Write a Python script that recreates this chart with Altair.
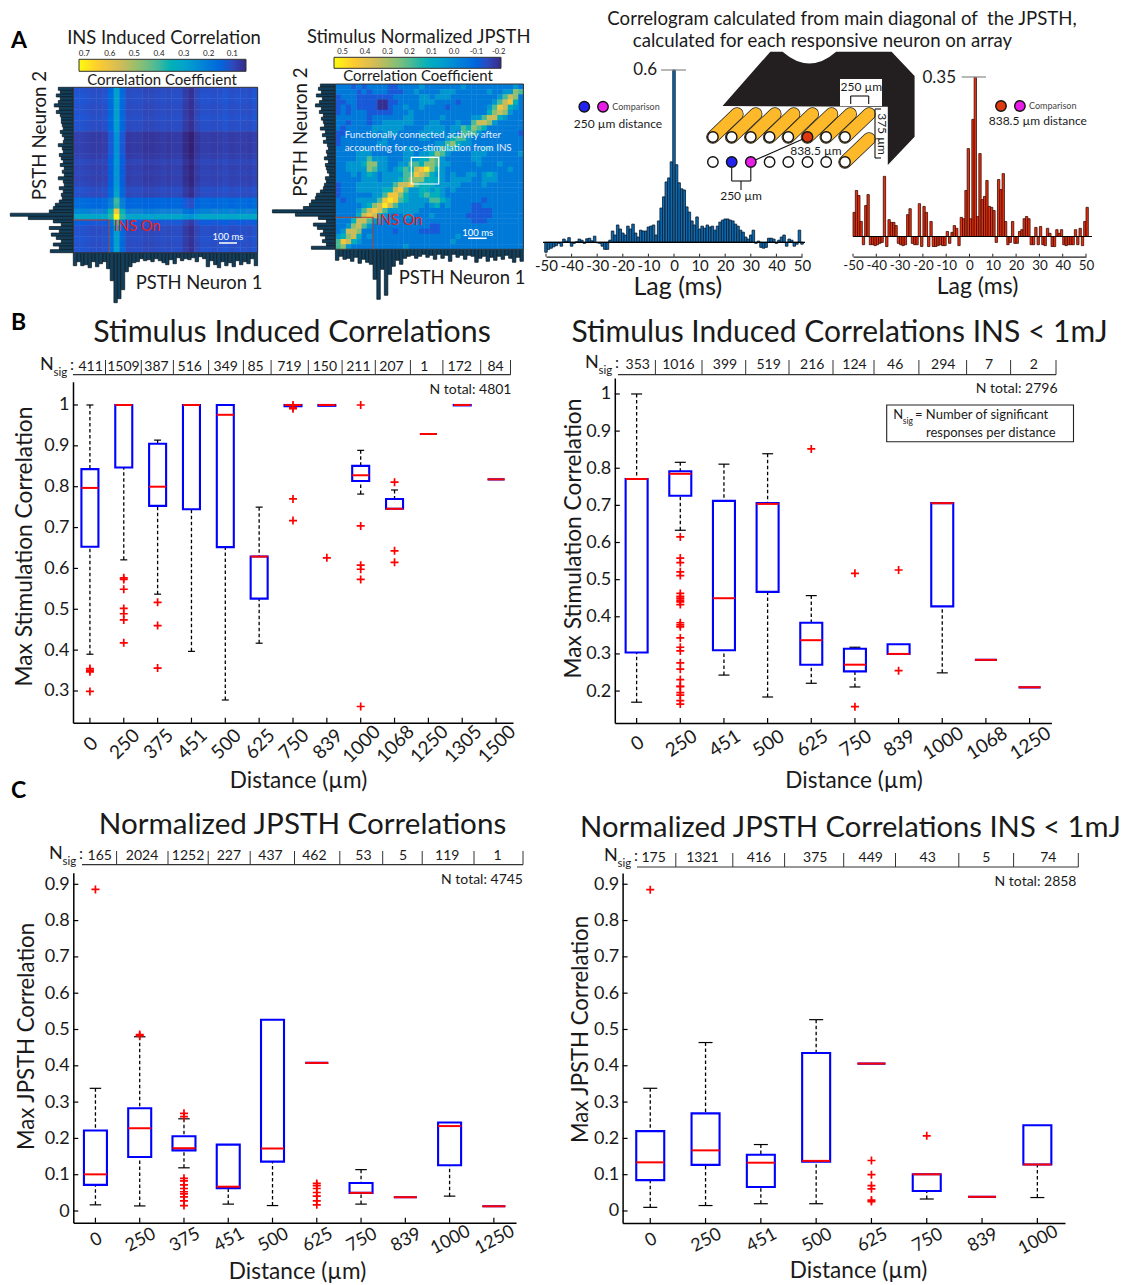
import altair as alt
import pandas as pd

W, H = 1114, 1275
FONT = "Lato"
PARULA = ["#352a87", "#0f5cdd", "#1481d6", "#06a4ca", "#2eb7a4", "#87bf77", "#d1bb59", "#fec832", "#f9fb0e"]

# ---------- data: panel A, PSTH and JPSTH ----------
A1_COL = [.01,.01,.005,0,0,.005,.05,.18,.05,-.005,0,0,-.01,-.01,-.005,0,-.005,0,0,-.03,-.05,-.01,.005,.005,0,.005,.01,0,.005,.005,0,.01]
A1_ROW = [0,.005,.005,0,0,.005,0,0,-.03,-.03,-.03,-.03,-.025,-.012,-.022,-.016,-.022,-.016,0,-.005,.05,.05,.11,.2,.02,0,0,.005,0,.005]
A1_BASE = .105
A1_HOT = [(7,19,.3),(7,20,.4),(7,21,.38),(7,22,.62),(7,23,.71),(7,24,.38),(6,22,.36),(8,22,.36),(6,23,.38),(8,23,.38)]
A1_LEFT = [15,13,17,13,15,19,14,17,13,12,12,11,10,13,11,9,10,15,11,10,14,12,10,13,9,11,9,15,10,9,14,10,12,11,14,18,20,24,63,45,20,12,24,14,22,17,12,20,14,23]
A1_BOTTOM = [13,9,13,12,15,9,14,11,9,16,28,50,46,37,19,14,10,9,6,8,7,9,6,8,10,12,7,11,5,8,6,7,5,9,4,6,14,8,12,15,9,13,10,14,8,12,9,11,6,13]
A2_LEFT = [15,17,14,19,13,16,20,14,16,12,14,12,11,15,10,13,9,12,8,7,9,8,11,7,10,9,8,6,10,9,11,12,15,19,20,24,26,32,63,40,17,9,22,18,12,15,10,13,9,24]
A2_BOTTOM = [11,7,10,9,12,8,14,10,13,15,30,50,20,46,25,17,11,15,9,7,6,9,7,5,8,6,10,5,9,6,12,5,8,6,10,6,7,13,9,7,12,8,11,7,10,6,9,13,8,12]
A2_GRID = """
222121222211222232222222322222222232
222212122211122322223332222223223365
122211111112222233233322222222235762
112211110011222233322221222222357842
121211110012232232222122222223587432
121222111112223222222222222224676322
222222122222233222223222223357743222
221222122333333222332223225776322222
212222233333322223333233546542222222
112222232333222233333232555322222221
122222222322222233222345532222222222
122222223322222222233564332222222222
222223222222233223335443222233222222
222233322222233233465322223332222223
222233533322233344653222223322222222
223334663322335546653322222322232222
223333653323454789643222222222222322
222323432333355876433232233234322222
222223332333456664443233332233322222
122233333335778544433333222232222222
122233333447853344343232222222222222
122222233588643345443222222222222222
212233335898543333554322222212222222
222223467975333332342322221122222222
222235787533333322222222221111222222
222247874322233222322222211111222222
222477533222222222222222221112222222
223675322222222222112222222222222222
237762222221222211112222222222222222
346742322222222222222223222222222222
587432222222222222222232222222222222
563222222222232222222222222222222222
""".split()

# ---------- data: panel A, correlograms ----------
BLUE_VALUES = [-.035,-.025,-.021,-.016,-.012,-.004,-.014,.011,.004,.016,
 -.014,-.004,.002,.011,.007,-.004,.012,.014,.005,.021,
 -.002,-.004,-.014,-.025,-.025,.007,.039,.025,.06,.046,
 .032,.025,.056,.046,.063,.032,.018,.042,.039,.039,
 .053,.056,.06,.025,.074,.119,.158,.21,.224,.28,
 .6,
 .27,.207,.186,.182,.123,.105,.074,.06,.088,.046,
 .056,.049,.06,.053,.056,.042,.056,.07,.077,.081,
 .081,.077,.074,.063,.056,.042,.035,.018,.011,.025,
 .042,-.004,.004,-.018,-.021,-.018,.014,.014,.011,-.004,
 .007,.018,.025,-.014,.011,.007,-.014,-.007,.042,-.007]
RED_VALUES = [.053,.101,.09,.033,-.018,.068,.092,-.018,-.018,-.02,
 -.018,-.015,-.013,.132,-.022,.037,.031,.031,.024,-.015,
 -.018,-.02,-.018,.048,.061,-.015,-.018,-.018,.072,-.022,
 .066,.053,-.022,.033,-.022,-.022,-.02,-.018,-.02,-.02,
 .011,-.015,.009,.024,.018,-.02,.042,.039,.101,.193,
 .039,
 .257,.349,.044,.182,.081,.088,.123,.066,.064,.057,
 -.013,.125,.103,.138,.033,-.018,-.013,.033,-.015,-.015,
 .011,.015,.039,.044,.039,-.018,-.018,.02,-.018,.022,
 -.018,-.02,.018,.007,-.022,-.022,.015,.007,.015,-.018,
 -.02,-.018,-.018,-.018,.015,-.018,.018,-.02,.033,.064]
LAG_TICKS = [-50,-40,-30,-20,-10,0,10,20,30,40,50]

# ---------- data: panels B and C ----------
B1_CATS = ["0","250","375","451","500","625","750","839","1000","1068","1250","1305","1500"]
B1_Q1  = [.653,.847,.753,.745,.652,.526,.997,.998,.814,.746,.929,.999,.818]
B1_MED = [.797,1.0,.8,1.0,.976,.629,1.0,1.0,.828,.746,.929,1.0,.818]
B1_Q3  = [.843,1.0,.905,1.0,1.0,.629,1.0,1.0,.851,.77,.929,1.0,.818]
B1_LO  = [.39,.621,.537,.397,.278,.417,None,None,.782,None,None,None,None]
B1_HI  = [1.0,None,.914,None,None,.75,None,None,.889,.792,None,None,None]
B1_OUT = [[.355,.351,.347,.299],[.577,.573,.549,.502,.489,.474,.418],[.517,.46,.356],[],[],[],[1.0,.994,.991,.77,.717],[.626],[1.0,.704,.608,.598,.573,.262],[.811,.643,.615],[],[],[]]
B1_NSIG = ["411","1509","387","516","349","85","719","150","211","207","1","172","84"]
B1_NSIG_X = [90.6,123.4,156.5,189.7,225.8,255.6,289.4,324.9,358.4,391.5,424.3,459.8,495.6]
B1_SEP_X = [105.5,141.3,173.4,208.6,243.4,271.1,308.3,342.1,375.3,410.4,442.9,480.7,510.5]

B2_CATS = ["0","250","451","500","625","750","839","1000","1068","1250"]
B2_Q1  = [.304,.726,.31,.467,.271,.253,.3,.428,.284,.21]
B2_MED = [.771,.785,.45,.704,.337,.271,.3,.706,.284,.21]
B2_Q3  = [.771,.792,.712,.706,.384,.314,.326,.706,.284,.21]
B2_LO  = [.17,.633,.243,.184,.221,.211,None,.249,None,None]
B2_HI  = [1.0,.816,.811,.839,.457,.318,None,None,None,None]
B2_OUT = [[],[.615,.558,.546,.521,.511,.463,.455,.45,.445,.44,.433,.384,.378,.373,.343,.318,.308,.276,.259,.231,.213,.212,.196,.189,.174,.165],[],[],[.852],[.517,.158],[.526,.255],[],[],[]]
B2_NSIG = ["353","1016","399","519","216","124","46","294","7","2"]
B2_NSIG_X = [637.7,678.4,725,768.6,812.3,854.5,895.2,943.3,989.1,1033.9]
B2_SEP_X = [655.4,702,745.7,789,833,874,918.9,966.6,1010.6,1056]

C1_CATS = ["0","250","375","451","500","625","750","839","1000","1250"]
C1_Q1  = [.072,.149,.167,.063,.136,.408,.05,.038,.126,.013]
C1_MED = [.101,.228,.173,.067,.172,.408,.05,.038,.234,.013]
C1_Q3  = [.222,.283,.206,.183,.527,.408,.077,.038,.244,.013]
C1_LO  = [.017,.014,.119,.019,.015,None,.019,None,.041,None]
C1_HI  = [.338,.48,.254,None,None,None,.114,None,None,None]
C1_OUT = [[.886],[.486,.483],[.269,.26,.09,.083,.072,.062,.053,.047,.039,.028,.015],[],[],[.076,.07,.062,.051,.041,.028,.017],[],[],[],[]]
C1_NSIG = ["165","2024","1252","227","437","462","53","5","119","1"]
C1_NSIG_X = [99.7,142,188,228.9,270.5,314.4,363.4,403,447.3,497.6]
C1_SEP_X = [116.6,168,208.2,250.2,294.5,339.8,382.7,422.2,474,523]

C2_CATS = ["0","250","451","500","625","750","839","1000"]
C2_Q1  = [.085,.127,.066,.136,.406,.055,.039,.128]
C2_MED = [.134,.167,.133,.138,.406,.101,.039,.128]
C2_Q3  = [.22,.269,.155,.435,.406,.101,.039,.236]
C2_LO  = [.01,.015,.02,.02,None,.033,None,.037]
C2_HI  = [.338,.464,.183,.527,None,None,None,None]
C2_OUT = [[.885],[],[],[],[.139,.1,.07,.061,.03,.026],[.207],[],[]]
C2_NSIG = ["175","1321","416","375","449","43","5","74"]
C2_NSIG_X = [653.6,702.4,759,815.3,870.8,927.7,986.2,1048.3]
C2_SEP_X = [675.8,732.8,784.6,843.7,895.5,958.8,1013.6,1078.3]

# ---------- helpers ----------
layers = []
texts = []
PX = alt.Scale(domain=[8, 8 + W], range=[0, W], zero=False, nice=False)
PY = alt.Scale(domain=[8, 8 + H], range=[0, H], zero=False, nice=False)


def T(s, x, y, size=14, color="#1a1a1a", align="center", angle=0):
    texts.append(dict(t=s, x=x, y=y, s=size, c=color, al=align, a=angle))


def seg(lines, color="black", width=1.0, dash=None):
    df = pd.DataFrame(lines, columns=["x", "y", "x1", "y1"])
    kw = dict(color=color, strokeWidth=width)
    if dash:
        kw["strokeDash"] = dash
    layers.append(alt.Chart(df).mark_rule(**kw).encode(
        x=alt.X("x:Q", scale=PX, axis=None), y=alt.Y("y:Q", scale=PY, axis=None),
        x2="x1:Q", y2="y1:Q"))


def rect(x0, y0, x1, y1, fill="white", stroke=None, sw=1.0):
    df = pd.DataFrame([dict(x=x0, y=y0, x1=x1, y1=y1)])
    kw = dict(fill=fill, opacity=1)
    if stroke:
        kw.update(stroke=stroke, strokeWidth=sw)
    layers.append(alt.Chart(df).mark_rect(**kw).encode(
        x=alt.X("x:Q", scale=PX, axis=None), y=alt.Y("y:Q", scale=PY, axis=None),
        x2="x1:Q", y2="y1:Q"))


def dots(xs, ys, colors, size=110):
    df = pd.DataFrame(dict(x=xs, y=ys, c=colors))
    layers.append(alt.Chart(df).mark_point(filled=True, shape="circle", size=size, stroke="#111", strokeWidth=1.4, opacity=1).encode(
        x=alt.X("x:Q", scale=PX, axis=None), y=alt.Y("y:Q", scale=PY, axis=None),
        fill=alt.Fill("c:N", scale=None)))


def boxpanel(cats, q1, med, q3, lo, hi, out, x0, x1, ytop, ybot, dom, yvals, boxw, capw,
             nsig, nsx, sepx, ln, sep_top, ny, nx, ylabel, ylx, yly, ysize, xlx, xly, ang, lpad,
             title, tx, ty, total, totx, toty, lsize=18, tsize=18, tfont=30):
    xs = alt.Scale(domain=cats, range=[x0 - 8, x1 - 8], paddingInner=0, paddingOuter=0)
    ys = alt.Scale(domain=dom, range=[ybot - 8, ytop - 8], zero=False, nice=False)
    df = pd.DataFrame(dict(d=cats, q1=q1, med=med, q3=q3))
    X = alt.X("d:N", scale=xs, axis=None)
    Y = lambda f: alt.Y(f, type="quantitative", scale=ys, axis=None)
    wl = pd.DataFrame([dict(d=c, a=l, b=q) for c, l, q in zip(cats, lo, q1) if l is not None])
    wh = pd.DataFrame([dict(d=c, a=h, b=q) for c, h, q in zip(cats, hi, q3) if h is not None])
    for w in (wl, wh):
        layers.append(alt.Chart(w).mark_rule(color="black", strokeWidth=1.3, strokeDash=[3.5, 2.5]).encode(x=X, y=Y("a"), y2="b:Q"))
        layers.append(alt.Chart(w).mark_tick(color="black", size=capw, thickness=1.2, opacity=1).encode(x=X, y=Y("a")))
    layers.append(alt.Chart(df).mark_bar(size=boxw, fill="white", stroke="#0000ff", strokeWidth=2.1).encode(x=X, y=Y("q1"), y2="q3:Q"))
    layers.append(alt.Chart(df).mark_tick(color="#ff0000", size=boxw, thickness=2, opacity=1).encode(x=X, y=Y("med")))
    od = pd.DataFrame([dict(d=c, v=v) for c, vs in zip(cats, out) for v in vs])
    layers.append(alt.Chart(od).mark_point(shape="M-1,0L1,0M0,-1L0,1", size=64, filled=False, stroke="#ff0000", strokeWidth=1.7, opacity=1).encode(x=X, y=Y("v")))
    # axes with inward ticks
    xax = alt.Axis(orient="bottom", offset=(ybot - 8) - H, ticks=False, domainColor="black", domainWidth=1.5,
                   labelAngle=ang, labelAlign="center", labelBaseline="middle", labelPadding=lpad, labelOffset=1,
                   labelFont=FONT, labelFontSize=lsize, labelColor="#1a1a1a", labelOverlap=False, grid=False,
                   title="Distance (µm)", titleFont=FONT, titleFontSize=22.6, titleFontWeight="normal", titleColor="#1a1a1a",
                   titleX=xlx - 8, titleY=xly - ybot, titleAlign="center", titleBaseline="middle", titleAngle=0)
    layers.append(alt.Chart(df).mark_rule(color="black", strokeWidth=1.2).encode(
        x=alt.X("d:N", scale=xs, axis=xax), y=alt.value(ybot - 8), y2=alt.value(ybot - 13)))
    yd = pd.DataFrame(dict(v=yvals))
    yax = alt.Axis(orient="left", offset=-(x0 - 8), ticks=False, domainColor="black", domainWidth=1.5, values=yvals,
                   labelExpr="'' + datum.value", labelPadding=4, labelFont=FONT, labelFontSize=tsize, labelColor="#1a1a1a", grid=False,
                   title=ylabel, titleFont=FONT, titleFontSize=ysize, titleFontWeight="normal", titleColor="#1a1a1a",
                   titleX=ylx - x0, titleY=yly - 8, titleAlign="center", titleBaseline="middle", titleAngle=270)
    layers.append(alt.Chart(yd).mark_rule(color="black", strokeWidth=1.2).encode(
        y=alt.Y("v:Q", scale=ys, axis=yax), x=alt.value(x0 - 8), x2=alt.value(x0 - 3)))
    # N_sig strip
    seg([(nx + 33, ln, sepx[-1], ln)], "#333", 1.2)
    seg([(s, ln, s, sep_top) for s in sepx], "#333", 1.0)
    for s, x in zip(nsig, nsx):
        T(s, x, ny, 14)
    T("N", nx, ny - 2, 18, align="left")
    T("sig", nx + 13.5, ny + 6, 11.5, align="left")
    T(":", nx + 30, ny - 2, 16, align="left")
    T(total, totx, toty, 14, align="right")
    T(title, tx, ty, tfont)


# ---------- panel A: heatmaps ----------
def heat(df, x0, x1, y0, y1, ncol, nrow, dom, vals, lx, ly, lw, th):
    # cells reach slightly past their neighbour so no hairline seams show between them
    df = df.assign(c1=df.c + 1.08, r1=df.r + 1.08)
    xs = alt.Scale(domain=[0, ncol], range=[x0 - 8, x1 - 8], zero=False, nice=False)
    ys = alt.Scale(domain=[0, nrow], range=[y0 - 8, y1 - 8], zero=False, nice=False)
    cs = alt.Scale(domain=dom, range=PARULA[::-1], nice=False, zero=False)
    leg = alt.Legend(orient="none", legendX=lx - 8, legendY=ly - 8, direction="horizontal", gradientLength=lw,
                     gradientThickness=th, title=None, values=vals, labelExpr="''",
                     labelOverlap=False, gradientStrokeColor="#333", gradientStrokeWidth=1)
    layers.append(alt.Chart(df).mark_rect().encode(
        x=alt.X("c:Q", scale=xs, axis=None), x2="c1:Q", y=alt.Y("r:Q", scale=ys, axis=None), y2="r1:Q",
        color=alt.Color("v:Q", scale=cs, legend=leg)))


def hists(left, bottom, x0, x1, y0, y1):
    fill = "#123f5c"
    yb = alt.Scale(domain=list(range(len(left))), range=[y0 - 8, y1 - 8], paddingInner=0.08, paddingOuter=0)
    xv = alt.Scale(domain=[0, 63], range=[x0 - 8, x0 - 8 - 63], zero=False, nice=False)
    d1 = pd.DataFrame(dict(i=range(len(left)), v=left))
    layers.append(alt.Chart(d1).mark_bar(fill=fill, stroke="#06121a", strokeWidth=.7).encode(
        y=alt.Y("i:O", scale=yb, axis=None), x=alt.X("v:Q", scale=xv, axis=None)))
    xb = alt.Scale(domain=list(range(len(bottom))), range=[x0 - 8, x1 - 8], paddingInner=0.08, paddingOuter=0)
    yv = alt.Scale(domain=[0, 50], range=[y1 - 8, y1 - 8 + 50], zero=False, nice=False)
    d2 = pd.DataFrame(dict(i=range(len(bottom)), v=bottom))
    layers.append(alt.Chart(d2).mark_bar(fill=fill, stroke="#06121a", strokeWidth=.7).encode(
        x=alt.X("i:O", scale=xb, axis=None), y=alt.Y("v:Q", scale=yv, axis=None)))


rows1 = []
hot = {(c, r): v for c, r, v in A1_HOT}
for r, rv in enumerate(A1_ROW):
    for c, cv in enumerate(A1_COL):
        rows1.append(dict(c=c, r=r, v=hot.get((c, r), A1_BASE + rv + cv)))
hists(A1_LEFT, A1_BOTTOM, 73.3, 257.6, 87.3, 252.7)
heat(pd.DataFrame(rows1), 73.3, 257.6, 87.3, 252.7, len(A1_COL), len(A1_ROW), [.722, .045],
     [.7, .6, .5, .4, .3, .2, .1], 79, 59.3, 167, 12)
for s, x in zip(["0.7", "0.6", "0.5", "0.4", "0.3", "0.2", "0.1"], [84.4, 109.8, 134.3, 159, 183.9, 208.7, 232.4]):
    T(s, x, 54, 8)
rect(73.3, 87.3, 257.6, 252.7, fill="transparent", stroke="#333", sw=1)
seg([(73.3, 220, 109.3, 220), (109.3, 220, 109.3, 252.7)], "#b5402f", 1)
T("INS On", 114, 227, 14.5, "#e8221b", "left")
seg([(219, 243, 237, 243)], "white", 1.5)
T("100 ms", 228, 236.5, 9.5, "white")
T("INS Induced Correlation", 164, 38, 18.4)
T("Correlation Coefficient", 162, 80, 15)
T("PSTH Neuron 2", 39.6, 135.5, 18.8, angle=270)
T("PSTH Neuron 1", 199, 282.7, 18.4)

rows2 = []
for r, line in enumerate(A2_GRID):
    for c, ch in enumerate(line.ljust(36, "2")[:36]):
        rows2.append(dict(c=c, r=r, v=-.2 + .0778 * int(ch)))
hists(A2_LEFT, A2_BOTTOM, 335.4, 523.4, 84, 249.3)
heat(pd.DataFrame(rows2), 335.4, 523.4, 84, 249.3, 36, len(A2_GRID), [.539, -.211],
     [.5, .4, .3, .2, .1, 0, -.1, -.2], 334, 57.3, 167, 11)
for s, x in zip(["0.5", "0.4", "0.3", "0.2", "0.1", "0.0", "-0.1", "-0.2"], [342.6, 365, 387.5, 409.5, 431.6, 454, 476.4, 498.6]):
    T(s, x, 52, 7.5)
rect(335.4, 84, 523.4, 249.3, fill="transparent", stroke="#333", sw=1)
seg([(335.4, 217.3, 373.3, 217.3), (373.3, 217.3, 373.3, 249.3)], "#b5402f", 1)
rect(411.3, 157.3, 438.7, 184, fill="transparent", stroke="white", sw=1.2)
T("INS On", 376, 221, 14.5, "#e8221b", "left")
seg([(468, 238.3, 486.7, 238.3)], "white", 1.5)
T("100 ms", 477.7, 232.5, 9.5, "white")
T("Functionally connected activity after", 344.7, 135, 9.8, "#e8ecff", "left")
T("accounting for co-stimulation from INS", 344.7, 147.7, 9.8, "#e8ecff", "left")
T("Stimulus Normalized JPSTH", 418.7, 36.5, 18.4)
T("Correlation Coefficient", 418, 76, 15)
T("PSTH Neuron 2", 301, 132, 18.8, angle=270)
T("PSTH Neuron 1", 462, 278, 18.4)


# ---------- panel A: correlograms ----------
def corr(vals, lags0, x0, x1, ytop, ybot, ymax, ymin, fill, stroke, titleX, titleSize, lab):
    lags = [lags0 + i for i in range(len(vals))]
    df = pd.DataFrame(dict(a=lags, b=[l + 1 for l in lags], v=vals, z=[0.0] * len(vals)))
    xs = alt.Scale(domain=[-50, 50], range=[x0 - 8, x1 - 8], zero=False, nice=False)
    ys = alt.Scale(domain=[ymin, ymax], range=[ybot - 8, ytop - 8], zero=False, nice=False)
    layers.append(alt.Chart(df).mark_rect(fill=fill, stroke=stroke, strokeWidth=.8, opacity=1).encode(
        x=alt.X("a:Q", scale=xs, axis=None), x2="b:Q",
        y=alt.Y("v:Q", scale=ys, axis=None), y2="z:Q"))
    ax = alt.Axis(orient="bottom", offset=(ybot - 8) - H, ticks=False, domainColor="#222", domainWidth=1.3,
                  values=LAG_TICKS, labelExpr="'' + datum.value", labelFont=FONT, labelFontSize=lab, labelColor="#1a1a1a",
                  labelPadding=2, labelOverlap=False, labelFlush=False, grid=False,
                  title="Lag (ms)", titleFont=FONT, titleFontSize=titleSize, titleFontWeight="normal", titleColor="#1a1a1a",
                  titleX=titleX - 8, titleY=286.5 - ybot, titleAlign="center", titleBaseline="middle", titleAngle=0)
    tk = pd.DataFrame(dict(l=LAG_TICKS))
    layers.append(alt.Chart(tk).mark_rule(color="#222", strokeWidth=1).encode(
        x=alt.X("l:Q", scale=xs, axis=ax), y=alt.value(ybot - 8), y2=alt.value(ybot - 11)))


corr(BLUE_VALUES, -50.5, 546, 802, 70, 256.7, .6, -.0505, "#0b6bb5", "#0b1a28", 677.3, 25, 15)
seg([(543, 242.3, 805, 242.3)], "black", 1.2)
seg([(661, 70, 686, 70)], "#888", 1.2)
T("0.6", 657, 70, 17, align="right")
corr(RED_VALUES, -50, 853, 1086, 77, 256.7, .35, -.0443, "#e8300f", "#3a0d05", 977, 23, 13.4)
seg([(853, 236.5, 1092, 236.5)], "black", 1.2)
seg([(961.7, 77, 986, 77)], "#888", 1.2)
T("0.35", 956, 78, 17, align="right")
T("Correlogram calculated from main diagonal of \u00a0the JPSTH,", 842, 19, 18.6)
T("calculated for each responsive neuron on array", 822.5, 41, 18.6)

# ---------- panel A: array schematic (page coordinates of the drawing) ----------
ARRAY_X = [712.9, 731.7, 750.8, 769.6, 788.3, 807.5, 826.2, 845]
ARRAY_TOP_Y = 137
ARRAY_BOTTOM_Y = 162
BODY_PATH = ("M-.477,-.563L-.354,-.563Q-.086,-.329,.182,-.563L.736,-.563L.966,-.32L.966,.287"
             "L.698,.57L.698,-.013L-.955,-.02Z")
layers.append(alt.Chart(pd.DataFrame(dict(x=[818], y=[108]))).mark_point(
    shape=BODY_PATH, size=40000, filled=True, fill="#231f20", stroke="#231f20", strokeWidth=0, opacity=1).encode(
    x=alt.X("x:Q", scale=PX, axis=None), y=alt.Y("y:Q", scale=PY, axis=None)))
rect(840, 79, 882, 106, fill="white")
caps = []
for i, x in enumerate(ARRAY_X):
    caps.append(dict(o=2 * i, x=x, y=ARRAY_TOP_Y, x1=x + 24, y1=ARRAY_TOP_Y - 23, c="#222", w=13.5))
    caps.append(dict(o=2 * i + 1, x=x, y=ARRAY_TOP_Y, x1=x + 24, y1=ARRAY_TOP_Y - 23, c="#fdb92a", w=12))
caps.append(dict(o=20, x=845, y=ARRAY_BOTTOM_Y, x1=869, y1=139, c="#222", w=13.5))
caps.append(dict(o=21, x=845, y=ARRAY_BOTTOM_Y, x1=869, y1=139, c="#fdb92a", w=12))
layers.append(alt.Chart(pd.DataFrame(caps)).mark_rule(strokeCap="round").encode(
    x=alt.X("x:Q", scale=PX, axis=None), y=alt.Y("y:Q", scale=PY, axis=None), x2="x1:Q", y2="y1:Q",
    color=alt.Color("c:N", scale=None), strokeWidth=alt.StrokeWidth("w:Q", scale=None),
    order=alt.Order("o:Q")))
seg([(750.8, 162, 807.5, 137), (731.7, 168, 731.7, 181), (731.7, 181, 750.8, 181), (750.8, 168, 750.8, 181), (741, 181, 741, 190),
     (850.7, 104, 850.7, 96), (850.7, 96, 868.7, 96), (868.7, 96, 868.7, 104),
     (875, 109, 881, 109), (875, 109, 875, 158), (875, 158, 881, 158)], "#111", 1.1)
dots(ARRAY_X, [ARRAY_TOP_Y] * 8, ["white"] * 5 + ["#df3a0f"] + ["white"] * 2)
dots(ARRAY_X, [ARRAY_BOTTOM_Y] * 8, ["white", "#2323f0", "#e81de8"] + ["white"] * 5)
dots([584.3, 603], [106.7, 106.7], ["#2323f0", "#e81de8"])
dots([1001, 1019.9], [106, 106], ["#df3a0f", "#e81de8"])
T("250 µm", 861.4, 87, 12)
T("838.5 µm", 815.9, 151, 12)
T("250 µm", 741, 196, 12)
T("375 µm", 881.5, 134, 12, angle=90)
T("Comparison", 612.3, 107, 9, "#444", "left")
T("250 µm distance", 618, 124, 12)
T("Comparison", 1029, 106, 9, "#444", "left")
T("838.5 µm distance", 1037.8, 121, 12)

# ---------- panels B, C ----------
boxpanel(B1_CATS, B1_Q1, B1_MED, B1_Q3, B1_LO, B1_HI, B1_OUT, 73, 513, 381.7, 722.7, [.2224, 1.057],
         [.3, .4, .5, .6, .7, .8, .9, 1], 17, 7, B1_NSIG, B1_NSIG_X, B1_SEP_X, 374.7, 360, 367, 40,
         "Max Stimulation Correlation", 24, 546, 22.7, 298, 780, -45, 21, "Stimulus Induced Correlations", 292, 332.7,
         "N total: 4801", 511.5, 390, lsize=19, tfont=30.3)
boxpanel(B2_CATS, B2_Q1, B2_MED, B2_Q3, B2_LO, B2_HI, B2_OUT, 614.8, 1051.4, 378, 723, [.114, 1.043],
         [.2, .3, .4, .5, .6, .7, .8, .9, 1], 22, 11, B2_NSIG, B2_NSIG_X, B2_SEP_X, 374.7, 360, 365, 585,
         "Max Stimulation Correlation", 573, 538, 22.7, 853.5, 780, -33, 20, "Stimulus Induced Correlations INS < 1mJ", 839.6, 333,
         "N total: 2796", 1057.6, 388.7, lsize=19, tfont=30)
rect(886.7, 405, 1073.5, 441.7, fill="white", stroke="#222", sw=1.1)
T("N", 893.3, 415.3, 13, align="left")
T("sig", 902.8, 421, 8.5, align="left")
T("= Number of significant", 915, 415.3, 13, align="left")
T("responses per distance", 926, 432.7, 13, align="left")

boxpanel(C1_CATS, C1_Q1, C1_MED, C1_Q3, C1_LO, C1_HI, C1_OUT, 73.3, 516, 872.7, 1222.7, [-.0322, .932],
         [0, .1, .2, .3, .4, .5, .6, .7, .8, .9], 23, 11.5, C1_NSIG, C1_NSIG_X, C1_SEP_X, 864.7, 851, 856, 49,
         "Max JPSTH Correlation", 26, 1036, 22.2, 297, 1271.7, -28, 17, "Normalized JPSTH Correlations", 302.5, 825,
         "N total: 4745", 523, 880, tfont=29.6)
boxpanel(C2_CATS, C2_Q1, C2_MED, C2_Q3, C2_LO, C2_HI, C2_OUT, 622.6, 1065, 873, 1223, [-.0331, .931],
         [0, .1, .2, .3, .4, .5, .6, .7, .8, .9], 28, 14, C2_NSIG, C2_NSIG_X, C2_SEP_X, 867, 853, 858, 604,
         "Max JPSTH Correlation", 580, 1029, 22.2, 858, 1270, -28, 17, "Normalized JPSTH Correlations INS < 1mJ", 850.5, 828,
         "N total: 2858", 1076.5, 881.7, tfont=29.2)

# ---------- text layers ----------
tdf = pd.DataFrame(texts)
for al in ["left", "center", "right"]:
    sub = tdf[tdf.al == al]
    layers.append(alt.Chart(sub).mark_text(align=al, baseline="middle", font=FONT).encode(
        x=alt.X("x:Q", scale=PX, axis=None), y=alt.Y("y:Q", scale=PY, axis=None),
        text="t:N", size=alt.Size("s:Q", scale=None), color=alt.Color("c:N", scale=None),
        angle=alt.Angle("a:Q", scale=None)))
letters = pd.DataFrame(dict(t=["A", "B", "C"], x=[11, 11, 11], y=[41, 323, 791]))
layers.append(alt.Chart(letters).mark_text(align="left", baseline="middle", font=FONT, fontSize=23, fontWeight="bold", color="black").encode(
    x=alt.X("x:Q", scale=PX, axis=None), y=alt.Y("y:Q", scale=PY, axis=None), text="t:N"))

chart = alt.layer(*layers).resolve_scale(
    x="independent", y="independent", color="independent"
).properties(
    width=W, height=H, padding=0, autosize=alt.AutoSizeParams(type="none"), background="white"
).configure_view(stroke=None)

chart.save("out.html", embed_options={"renderer": "svg", "actions": False})
